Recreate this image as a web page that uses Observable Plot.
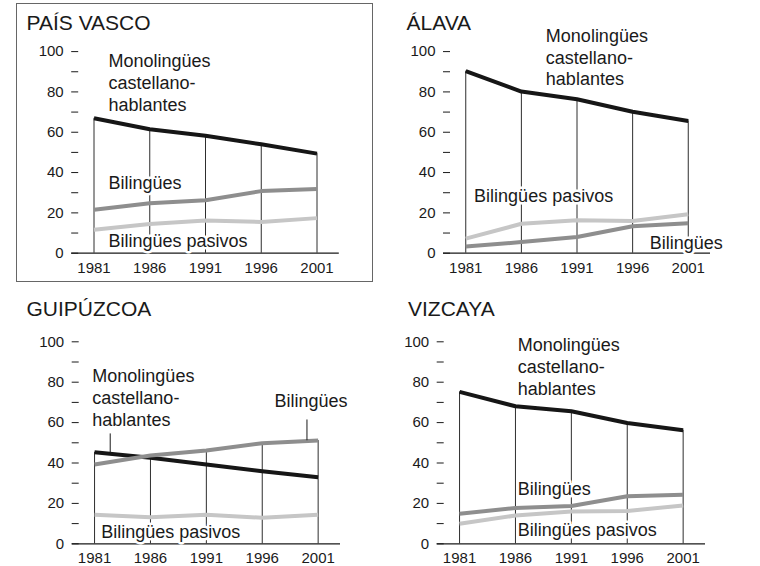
<!DOCTYPE html>
<html><head><meta charset="utf-8">
<script src="https://cdn.jsdelivr.net/npm/d3@7"></script>
<script src="https://cdn.jsdelivr.net/npm/@observablehq/plot@0.6"></script>
<style>
body{margin:0;background:#fff;font-family:"Liberation Sans",Arial,Helvetica,sans-serif;}
#wrap{position:relative;width:760px;height:566px;overflow:hidden;background:#fff;}
.panel{position:absolute;width:380px;}
.title{position:absolute;font-size:21px;line-height:21px;color:#1a1a1a;white-space:nowrap;}
#box{position:absolute;left:16px;top:3px;width:357px;height:279px;box-sizing:border-box;border:1.5px solid #666;pointer-events:none;}
#wrap svg g[aria-label="x-axis tick label"], #wrap svg g[aria-label="y-axis tick label"],
#wrap svg g[aria-label="x-axis tick label"] text, #wrap svg g[aria-label="y-axis tick label"] text{font-size:15px !important;}
</style></head><body><div id="wrap"></div>
<script>
// ---- data ----
const years = [1981, 1986, 1991, 1996, 2001];
const seriesNames = ["Monolingües castellanohablantes", "Bilingües", "Bilingües pasivos"];
const regions = ["PAÍS VASCO", "ÁLAVA", "GUIPÚZCOA", "VIZCAYA"];
const yTicks = [0, 10, 20, 30, 40, 50, 60, 70, 80, 90, 100];

const paisVascoMono = [66.9, 61.5, 58.3, 54.0, 49.4];
const paisVascoBil  = [21.5, 24.8, 26.3, 30.8, 31.9];
const paisVascoPas  = [11.6, 14.5, 16.2, 15.5, 17.4];

const alavaMono = [90.3, 80.2, 76.4, 70.2, 65.6];
const alavaBil  = [3.3, 5.5, 8.0, 13.4, 14.9];
const alavaPas  = [7.2, 14.6, 16.3, 16.0, 19.3];

const guipuzcoaMono = [45.3, 42.6, 39.3, 35.9, 33.0];
const guipuzcoaBil  = [39.3, 43.7, 46.2, 49.8, 51.1];
const guipuzcoaPas  = [14.4, 13.2, 14.4, 12.9, 14.4];

const vizcayaMono = [75.2, 68.1, 65.6, 59.8, 56.2];
const vizcayaBil  = [14.9, 17.7, 18.7, 23.5, 24.3];
const vizcayaPas  = [9.9, 14.0, 16.0, 16.2, 19.0];

// label annotations (year, value in data units; text baseline of last line)
const monoLabel = "Monolingües\ncastellano-\nhablantes";
const paisVascoLabels = [
  {text: monoLabel, year: 1982.3, value: 70.4, anchor: "start"},
  {text: "Bilingües", year: 1982.3, value: 31.6, anchor: "start"},
  {text: "Bilingües pasivos", year: 1982.3, value: 3.3, anchor: "start"}
];
const alavaLabels = [
  {text: monoLabel, year: 1988.2, value: 83.2, anchor: "start"},
  {text: "Bilingües pasivos", year: 1981.75, value: 25.3, anchor: "start"},
  {text: "Bilingües", year: 2004.1, value: 2.2, anchor: "end"}
];
const guipuzcoaLabels = [
  {text: monoLabel, year: 1980.8, value: 58.5, anchor: "start"},
  {text: "Bilingües", year: 1997.1, value: 67.5, anchor: "start"},
  {text: "Bilingües pasivos", year: 1981.6, value: 3.0, anchor: "start"}
];
const vizcayaLabels = [
  {text: monoLabel, year: 1986.2, value: 73.6, anchor: "start"},
  {text: "Bilingües", year: 1986.2, value: 24.0, anchor: "start"},
  {text: "Bilingües pasivos", year: 1986.2, value: 4.1, anchor: "start"}
];
const guipuzcoaLeaders = [
  {year: 1982.4, from: 44.6, to: 54.4},
  {year: 2000.0, from: 51.0, to: 61.3}
];

// ---- layout ----
const FONT = '"Liberation Sans", Arial, Helvetica, sans-serif';
const colors = ["#161616", "#8e8e8e", "#c6c6c6"];
const panels = [
  {name: regions[0], values: [paisVascoMono, paisVascoBil, paisVascoPas], labels: paisVascoLabels, leaders: [],
   left: 0, top: 0, height: 290, xRange: [71.2, 338.8], yRange: [252.7, 51.1], titleLeft: 26.5, titleTop: 12.2},
  {name: regions[1], values: [alavaMono, alavaBil, alavaPas], labels: alavaLabels, leaders: [],
   left: 380, top: 0, height: 290, xRange: [63, 330], yRange: [252.7, 51.1], titleLeft: 406.5, titleTop: 12.2},
  {name: regions[2], values: [guipuzcoaMono, guipuzcoaBil, guipuzcoaPas], labels: guipuzcoaLabels, leaders: guipuzcoaLeaders,
   left: 0, top: 290, height: 276, xRange: [71.7, 340], yRange: [253.3, 51.3], titleLeft: 26.5, titleTop: 298.2},
  {name: regions[3], values: [vizcayaMono, vizcayaBil, vizcayaPas], labels: vizcayaLabels, leaders: [],
   left: 380, top: 290, height: 276, xRange: [56.7, 325], yRange: [253.3, 51.3], titleLeft: 408, titleTop: 298.2}
];

const wrap = document.getElementById("wrap");

function makePanel(p) {
  const rows = [];
  seriesNames.forEach((s, si) => p.values[si].forEach((v, i) => rows.push({series: s, year: years[i], value: v})));
  const tops = years.map((y, i) => ({year: y, top: d3.max(p.values, arr => arr[i])}));
  const textOpts = {x: "year", y: "value", text: "text", fontSize: 18, lineAnchor: "bottom", lineHeight: 1.22,
    fill: "#1a1a1a", stroke: "white", strokeWidth: 5, paintOrder: "stroke", fontFamily: FONT};
  return Plot.plot({
    width: 380,
    height: p.height,
    marginLeft: p.xRange[0],
    marginRight: 380 - p.xRange[1],
    marginTop: p.yRange[1],
    marginBottom: p.height - p.yRange[0],
    style: {background: "transparent", fontFamily: FONT, fontSize: "15px", color: "#1a1a1a", overflow: "visible"},
    x: {domain: [1979, 2003]},
    y: {domain: [0, 100]},
    color: {domain: seriesNames, range: colors},
    marks: [
      Plot.ruleX(tops, {x: "year", y1: 0, y2: "top", stroke: "#2e2e2e", strokeWidth: 1}),
      Plot.line(rows, {x: "year", y: "value", z: "series", stroke: "series", strokeWidth: 4,
        strokeLinejoin: "round", strokeLinecap: "butt"}),
      Plot.ruleY([0], {stroke: "#1a1a1a", strokeWidth: 1.2}),
      Plot.ruleX(p.leaders, {x: "year", y1: "from", y2: "to", stroke: "#1a1a1a", strokeWidth: 1}),
      Plot.text(p.labels.filter(d => d.anchor === "start"), {...textOpts, textAnchor: "start"}),
      Plot.text(p.labels.filter(d => d.anchor === "end"), {...textOpts, textAnchor: "end"}),
      Plot.axisY({ticks: yTicks, tickSize: 7, tickPadding: 8, dx: 7, stroke: "#1a1a1a", label: null,
        tickFormat: d => (d % 20 === 0 ? String(d) : ""), fontSize: 15}),
      Plot.axisX({ticks: years, tickSize: 0, tickPadding: 9, label: null, tickFormat: d => String(d), fontSize: 15})
    ]
  });
}

panels.forEach(p => {
  const div = document.createElement("div");
  div.className = "panel";
  div.style.left = p.left + "px";
  div.style.top = p.top + "px";
  div.style.height = p.height + "px";
  const svg = makePanel(p);
  // enforce tick label size
  svg.querySelectorAll('g[aria-label$="tick label"]').forEach(g => {
    g.setAttribute("font-size", "15");
    g.querySelectorAll("text").forEach(t => t.setAttribute("font-size", "15"));
  });
  div.appendChild(svg);
  wrap.appendChild(div);
  const t = document.createElement("div");
  t.className = "title";
  t.style.left = p.titleLeft + "px";
  t.style.top = p.titleTop + "px";
  t.textContent = p.name;
  wrap.appendChild(t);
});
const box = document.createElement("div");
box.id = "box";
wrap.appendChild(box);
</script>
</body></html>
